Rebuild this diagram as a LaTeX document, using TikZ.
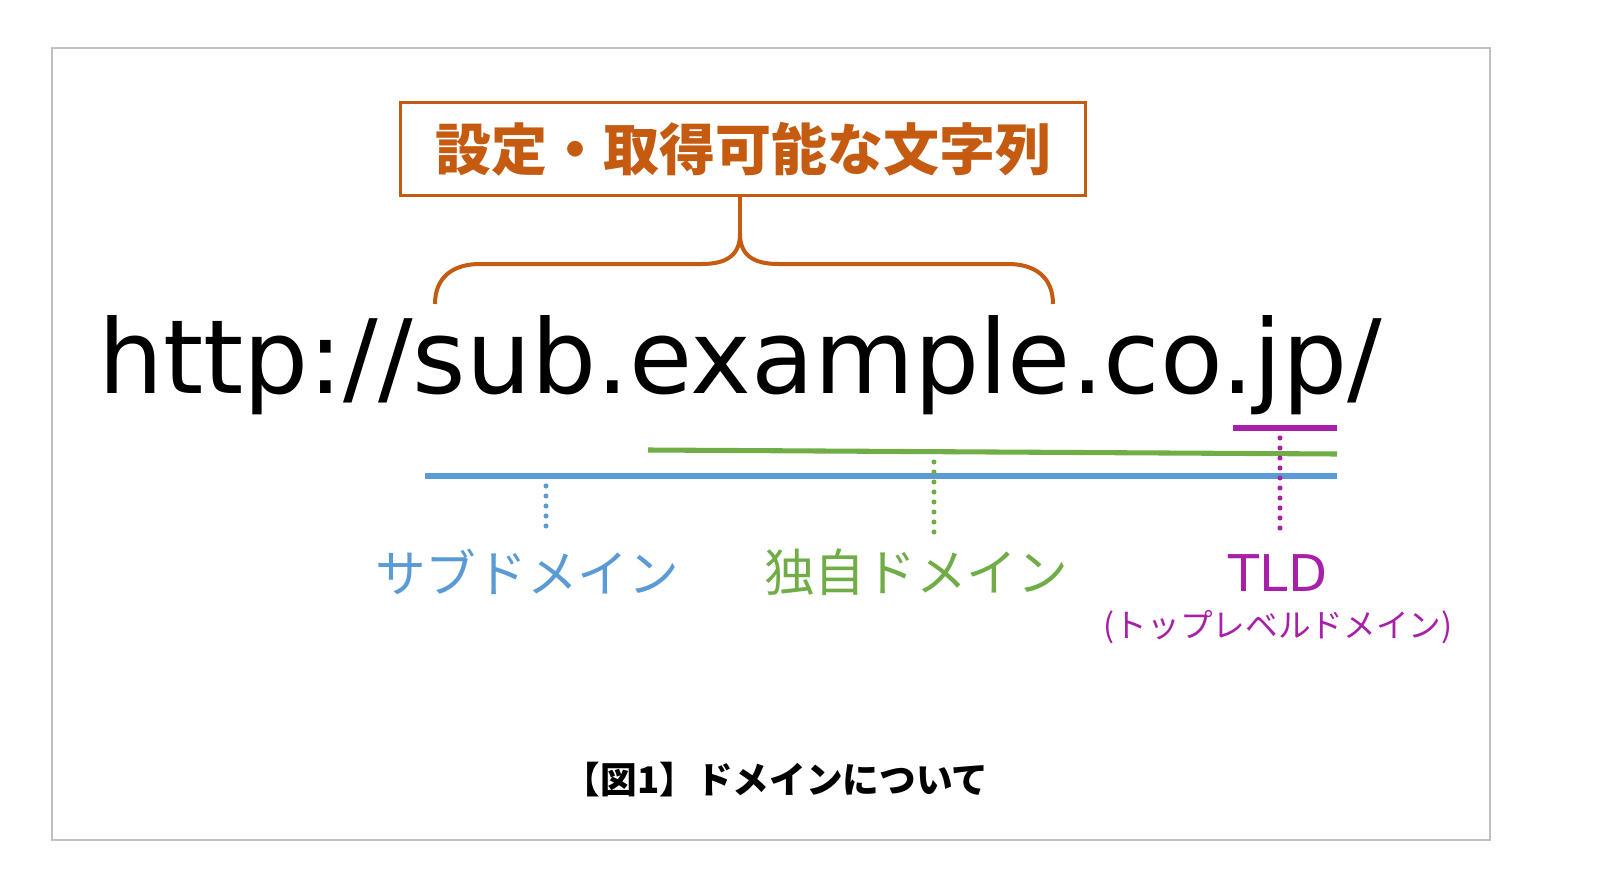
\documentclass[tikz,border=0pt]{standalone}
\usepackage{fontspec}
\setmainfont{DejaVu Sans}
\newfontfamily\jp{Noto Sans CJK JP}
\definecolor{framegray}{HTML}{BFBFBF}
\definecolor{setorange}{HTML}{C55A11}
\definecolor{subblue}{HTML}{5B9BD5}
\definecolor{owngreen}{HTML}{70AD47}
\definecolor{tldpurple}{HTML}{A81FA8}
\tikzset{
  bar/.style={line width=3.8pt},
  dots/.style={line width=3.8pt, line cap=round, dash pattern=on 0pt off 7.5pt},
  label/.style={inner sep=0pt, font=\jp\fontsize{38}{40}\selectfont},
}
\begin{document}
\begin{tikzpicture}[x=0.75pt,y=-0.75pt]
  \useasboundingbox (0,0) rectangle (1600,892);
  \draw[framegray, line width=1.2pt] (52,48) rectangle (1490,840);

  \node[draw=setorange, line width=2.2pt, text=setorange, minimum width=514pt, minimum height=70pt,
    font=\jp\bfseries\fontsize{42}{44}\selectfont] at (743,149) (title) {\raisebox{3pt}{設定・取得可能な文字列}};
  \node[anchor=base, inner sep=0pt, font=\fontsize{77}{80}\selectfont] at (740,393) (url) {http://sub.example.co.jp/};

  \coordinate (braceL) at (435,304);
  \coordinate (braceR) at (1053,304);
  \coordinate (braceM) at (740,234);

  \coordinate (blueL) at (425,476);
  \coordinate (blueR) at (1337,476);
  \coordinate (greenL) at (648,450);
  \coordinate (greenR) at (1337,454);
  \coordinate (tldL) at (1233,428);
  \coordinate (tldR) at (1337,428);

  \coordinate (subtop) at (546,486);
  \coordinate (subend) at (546,535);
  \coordinate (owntop) at (934,462);
  \coordinate (ownend) at (934,540);
  \coordinate (tldtop) at (1280,438);
  \coordinate (tldend) at (1280,535);

  \node[label, text=subblue] at (527,572) (sub) {サブドメイン};
  \node[label, text=owngreen] at (916,572) (own) {独自ドメイン};
  \node[inner sep=0pt, text=tldpurple, font=\fontsize{38}{40}\selectfont] at (1278,573) (tld) {TLD};
  \node[inner sep=0pt, text=tldpurple, font=\jp\fontsize{24.5}{26}\selectfont] at (1278,627) (tldnote) {(トップレベルドメイン)};

  \node[inner sep=0pt, font=\jp\bfseries\fontsize{27.5}{29}\selectfont] at (776,780) (cap) {【図1】ドメインについて};

  % brace under the title
  \draw[setorange, line width=3pt] (braceL) .. controls (435,278) and (452,264) .. (480,264) -- (702,264)
    .. controls (728,264) and (740,254) .. (braceM) .. controls (740,254) and (752,264) .. (778,264)
    -- (1008,264) .. controls (1036,264) and (1053,278) .. (braceR);
  \draw[setorange, line width=3pt] (braceM) -- (braceM |- title.south);

  \draw[bar, subblue] (blueL) -- (blueR);
  \draw[bar, owngreen] (greenL) -- (greenR);
  \draw[bar, tldpurple] (tldL) -- (tldR);

  \draw[dots, subblue] (subtop) -- (subend);
  \draw[dots, owngreen] (owntop) -- (ownend);
  \draw[dots, tldpurple] (tldtop) -- (tldend);
\end{tikzpicture}
\end{document}
